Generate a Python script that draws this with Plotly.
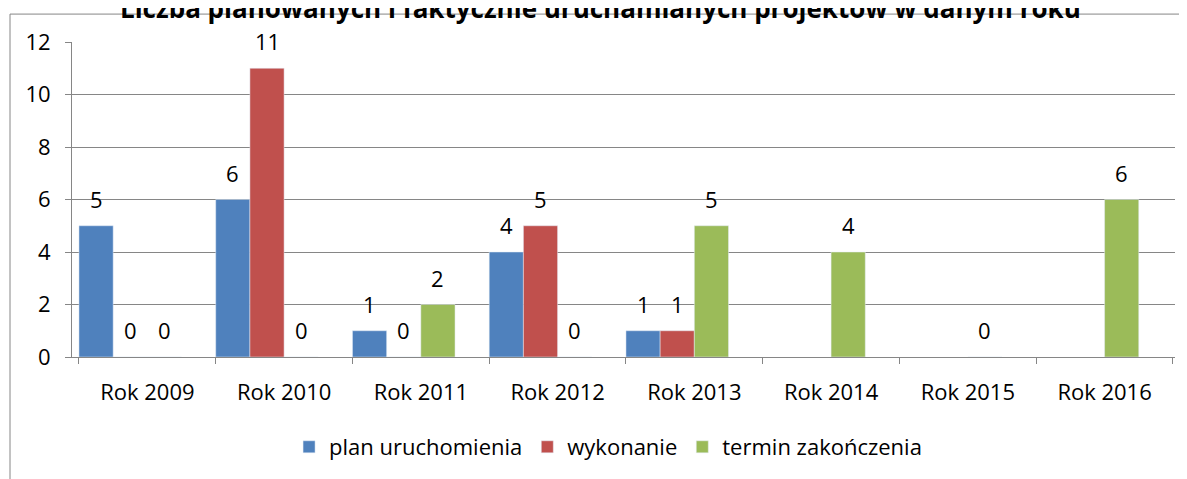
import plotly.graph_objects as go

# dane z wykresu
lata = ["Rok 2009", "Rok 2010", "Rok 2011", "Rok 2012",
        "Rok 2013", "Rok 2014", "Rok 2015", "Rok 2016"]
plan_uruchomienia = [5, 6, 1, 4, 1, None, None, None]
wykonanie = [0, 11, 0, 5, 1, None, None, None]
termin_zakonczenia = [0, 0, 2, 0, 5, 4, 0, 6]

tytul = "Liczba planowanych i faktycznie uruchamianych projektów w danym roku"

serie = [
    ("plan uruchomienia", plan_uruchomienia, "#4F81BD", -0.5),
    ("wykonanie", wykonanie, "#C0504D", -0.25),
    ("termin zakończenia", termin_zakonczenia, "#9BBB59", 0.0),
]

FONT = "Open Sans"
ROZMIAR = 22
SZARY = "#868686"

fig = go.Figure()
etykiety = []
for nazwa, wartosci, kolor, przes in serie:
    fig.add_trace(go.Bar(
        x=lata, y=wartosci, name=nazwa, marker_color=kolor,
        width=0.25, offset=przes,
    ))
    # etykiety danych nad słupkami
    for i, v in enumerate(wartosci):
        if v is None:
            continue
        etykiety.append(dict(
            x=i + przes + 0.125, y=v, xref="x", yref="y",
            text=str(v), showarrow=False, yshift=27,
            font=dict(family=FONT, size=ROZMIAR, color="black"),
        ))

# tytuł (w oryginale przycięty u góry)
etykiety.append(dict(
    x=0.4796, y=1.108, xref="paper", yref="paper", yanchor="middle",
    text="<b>" + tytul + "</b>", showarrow=False,
    font=dict(family=FONT, size=26, color="black"),
))

# strona ma 8px marginesu, więc figura jest o 8px mniejsza
fig.update_layout(
    width=1179, height=471,
    margin=dict(l=64, r=12, t=34, b=121),
    barmode="overlay",
    plot_bgcolor="white", paper_bgcolor="white",
    font=dict(family=FONT, size=ROZMIAR, color="black"),
    annotations=etykiety,
    legend=dict(orientation="h", x=0.486, xanchor="center",
                y=-0.2816, yanchor="middle",
                font=dict(family=FONT, size=ROZMIAR, color="black")),
    shapes=[dict(type="rect", xref="paper", yref="paper",
                 x0=-0.0562, x1=1.2, y0=-0.6, y1=1.0886,
                 line=dict(color=SZARY, width=1), layer="below")],
)
fig.update_xaxes(
    type="category", range=[-0.551, 7.515],
    showline=True, linecolor=SZARY, linewidth=1,
    ticks="outside", tickson="boundaries", ticklen=6, tickcolor=SZARY,
    showgrid=False, ticklabelstandoff=16,
)
fig.update_yaxes(
    range=[0, 12], dtick=2, showline=True, linecolor=SZARY, linewidth=1,
    showgrid=True, gridcolor=SZARY, gridwidth=1,
    ticks="outside", ticklen=6, tickcolor=SZARY, zeroline=False,
    ticklabelstandoff=10,
)

fig.write_html("out.html")
